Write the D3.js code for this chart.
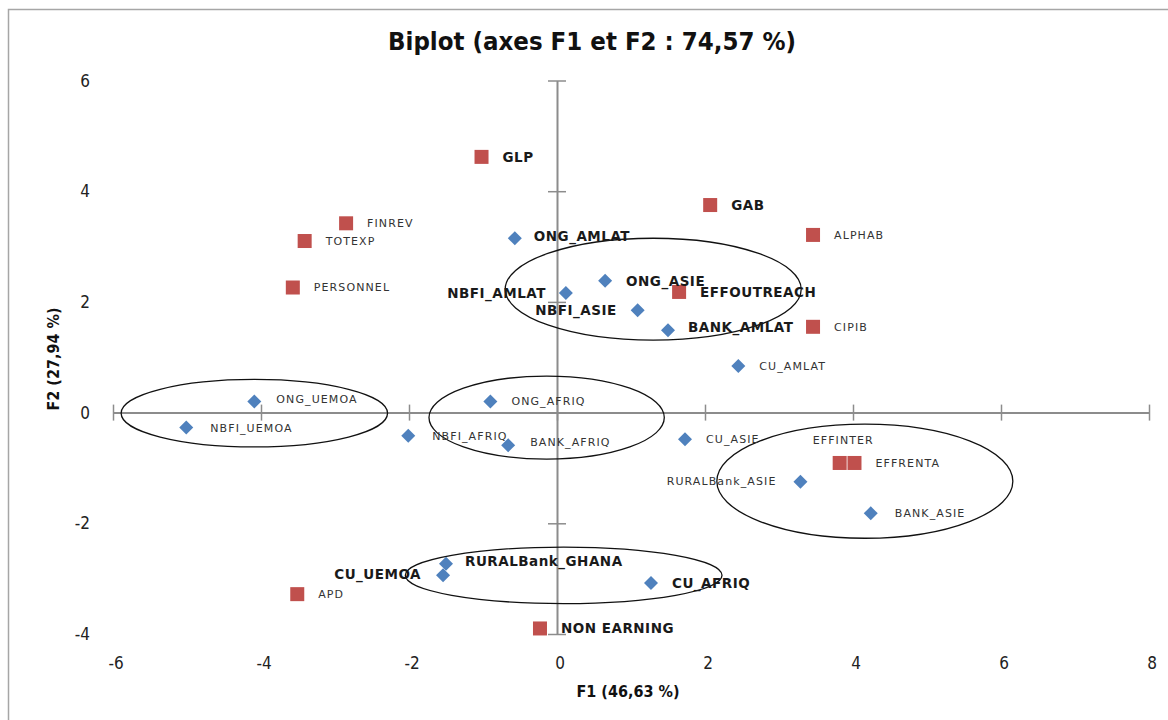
<!DOCTYPE html>
<html>
<head>
<meta charset="utf-8">
<script src="https://cdn.jsdelivr.net/npm/d3@7"></script>
<style>
  html, body { margin: 0; padding: 0; background: #fff; }
  svg { display: block; }
</style>
</head>
<body>
<svg id="chart" width="1168" height="720"></svg>
<script>
// Observations (blue diamonds): F1 / F2 scores
const obsNames = ["ONG_AMLAT", "ONG_ASIE", "NBFI_AMLAT", "NBFI_ASIE", "BANK_AMLAT", "CU_AMLAT",
  "ONG_UEMOA", "NBFI_UEMOA", "ONG_AFRIQ", "NBFI_AFRIQ", "BANK_AFRIQ", "CU_ASIE",
  "RURALBank_ASIE", "BANK_ASIE", "RURALBank_GHANA", "CU_UEMOA", "CU_AFRIQ"];
const obsF1 = [-0.57, 0.65, 0.12, 1.09, 1.50, 2.45, -4.09, -5.01, -0.90, -2.01, -0.66, 1.73,
  3.29, 4.24, -1.50, -1.54, 1.27];
const obsF2 = [3.15, 2.38, 2.16, 1.85, 1.49, 0.84, 0.20, -0.27, 0.20, -0.42, -0.59, -0.48,
  -1.25, -1.82, -2.73, -2.94, -3.08];

// Variables (red squares): F1 / F2 coordinates
const varNames = ["GLP", "GAB", "FINREV", "TOTEXP", "ALPHAB", "PERSONNEL", "EFFOUTREACH", "CIPIB",
  "EFFINTER", "EFFRENTA", "APD", "NON EARNING"];
const varF1 = [-1.02, 2.07, -2.85, -3.41, 3.46, -3.57, 1.65, 3.46, 3.82, 4.02, -3.51, -0.23];
const varF2 = [4.62, 3.75, 3.42, 3.10, 3.21, 2.26, 2.18, 1.55, -0.91, -0.91, -3.28, -3.90];

// Group outlines (ellipses) in F1 / F2 units
const groupCx = [1.30, -4.09, -0.14, 4.16, 0.09];
const groupCy = [2.23, -0.01, -0.09, -1.24, -2.94];
const groupRx = [2.00, 1.80, 1.59, 2.00, 2.14];
const groupRy = [0.92, 0.61, 0.75, 1.03, 0.51];

const xTicks = [-6, -4, -2, 0, 2, 4, 6, 8];
const yTicks = [-4, -2, 0, 2, 4, 6];

const titleText = "Biplot (axes F1 et F2 : 74,57 %)";
const xTitle = "F1 (46,63 %)";
const yTitle = "F2 (27,94 %)";

// ---- layout ----
const svg = d3.select("#chart");
const x = d3.scaleLinear().domain([-6, 8]).range([113, 1149]);
const y = d3.scaleLinear().domain([-4, 6]).range([634, 80.5]);

const blue = "#4F81BD", red = "#C0504D", axisGrey = "#8c8c8c";
const labelFont = "'DejaVu Sans', Verdana, sans-serif";
const tickFont = "'Liberation Sans Narrow', 'DejaVu Sans Condensed', sans-serif";

// chart frame
svg.append("rect").attr("x", 8.5).attr("y", 9.5).attr("width", 1200).attr("height", 800)
  .attr("fill", "none").attr("stroke", "#a6a6a6").attr("stroke-width", 1.5);

// title
svg.append("text").attr("x", 592).attr("y", 50)
  .attr("text-anchor", "middle")
  .attr("font-family", tickFont).attr("font-weight", "bold").attr("font-size", 25)
  .attr("fill", "#111")
  .attr("textLength", 408).attr("lengthAdjust", "spacingAndGlyphs")
  .text(titleText);

// axes crossing at the origin
const xAxisG = svg.append("g").attr("transform", `translate(0,${y(0)})`)
  .call(d3.axisBottom(x).tickValues(xTicks).tickSizeInner(8).tickSizeOuter(0).tickFormat(""));
xAxisG.selectAll(".tick line").attr("y1", -8);
const yAxisG = svg.append("g").attr("transform", `translate(${x(0)},0)`)
  .call(d3.axisLeft(y).tickValues(yTicks).tickSizeInner(9).tickSizeOuter(0).tickFormat(""));
yAxisG.selectAll(".tick line").attr("x1", 9);
[xAxisG, yAxisG].forEach(g => {
  g.select(".domain").attr("stroke", axisGrey).attr("stroke-width", 2);
  g.selectAll(".tick line").attr("stroke", axisGrey).attr("stroke-width", 1.5);
});

// tick labels along the plot edges
svg.append("g").selectAll("text").data(xTicks).join("text")
  .attr("x", d => x(d) + 3).attr("y", 669)
  .attr("text-anchor", "middle")
  .attr("font-family", tickFont).attr("font-size", 17).attr("fill", "#222")
  .text(d => d);
svg.append("g").selectAll("text").data(yTicks).join("text")
  .attr("x", 90).attr("y", d => y(d) + 6)
  .attr("text-anchor", "end")
  .attr("font-family", tickFont).attr("font-size", 17).attr("fill", "#222")
  .text(d => d);

// axis titles
svg.append("text").attr("x", 628).attr("y", 697).attr("text-anchor", "middle")
  .attr("font-family", tickFont).attr("font-weight", "bold").attr("font-size", 16)
  .attr("fill", "#111").text(xTitle);
svg.append("text").attr("transform", `translate(59,359) rotate(-90)`).attr("text-anchor", "middle")
  .attr("font-family", tickFont).attr("font-weight", "bold").attr("font-size", 16)
  .attr("fill", "#111").text(yTitle);

// group outlines
svg.append("g").selectAll("ellipse").data(groupCx).join("ellipse")
  .attr("cx", (d, i) => x(groupCx[i]))
  .attr("cy", (d, i) => y(groupCy[i]))
  .attr("rx", (d, i) => x(groupRx[i]) - x(0))
  .attr("ry", (d, i) => y(0) - y(groupRy[i]))
  .attr("fill", "none").attr("stroke", "#111").attr("stroke-width", 1.3);

// points
const obs = obsNames.map((n, i) => ({ name: n, f1: obsF1[i], f2: obsF2[i], kind: "obs" }));
const vars = varNames.map((n, i) => ({ name: n, f1: varF1[i], f2: varF2[i], kind: "var" }));

svg.append("g").selectAll("rect").data(vars).join("rect")
  .attr("x", d => x(d.f1) - 7).attr("y", d => y(d.f2) - 7)
  .attr("width", 14).attr("height", 14).attr("fill", red);

const diamond = d3.symbol().type(d3.symbolDiamond2).size(125);
svg.append("g").selectAll("path").data(obs).join("path")
  .attr("transform", d => `translate(${x(d.f1)},${y(d.f2)})`)
  .attr("d", diamond).attr("fill", blue);

// labels
const boldLabels = new Set(["GLP", "GAB", "ONG_AMLAT", "ONG_ASIE", "EFFOUTREACH", "NBFI_AMLAT",
  "NBFI_ASIE", "BANK_AMLAT", "RURALBank_GHANA", "CU_UEMOA", "CU_AFRIQ", "NON EARNING"]);
const labelPlacement = {
  "NBFI_AMLAT": { dx: -20, dy: 0, anchor: "end" },
  "NBFI_ASIE": { dx: -21, dy: 0, anchor: "end" },
  "RURALBank_ASIE": { dx: -24, dy: -1, anchor: "end" },
  "CU_UEMOA": { dx: -22, dy: -1, anchor: "end" },
  "EFFINTER": { dx: -27, dy: -23, anchor: "start" },
  "ONG_AMLAT": { dx: 19, dy: -2, anchor: "start" },
  "RURALBank_GHANA": { dx: 19, dy: -3, anchor: "start" },
  "BANK_AMLAT": { dx: 20, dy: -3, anchor: "start" },
  "BANK_AFRIQ": { dx: 22, dy: -3, anchor: "start" },
  "ONG_UEMOA": { dx: 22, dy: -2, anchor: "start" },
  "NBFI_UEMOA": { dx: 24, dy: 0, anchor: "start" },
  "NBFI_AFRIQ": { dx: 24, dy: 0, anchor: "start" },
  "BANK_ASIE": { dx: 24, dy: 0, anchor: "start" }
};
const defaultPlacement = { dx: 21, dy: 0, anchor: "start" };

svg.append("g").selectAll("text").data(obs.concat(vars)).join("text")
  .each(function (d) {
    const p = labelPlacement[d.name] || defaultPlacement;
    const bold = boldLabels.has(d.name);
    d3.select(this)
      .attr("x", x(d.f1) + p.dx)
      .attr("y", y(d.f2) + p.dy)
      .attr("dy", "0.36em")
      .attr("text-anchor", p.anchor)
      .attr("font-family", labelFont)
      .attr("font-weight", bold ? "bold" : "normal")
      .attr("font-size", bold ? 13.5 : 11)
      .attr("letter-spacing", bold ? 0.5 : 1.1)
      .attr("fill", bold ? "#1a1a1a" : "#333")
      .text(d.name);
  });
</script>
</body>
</html>
